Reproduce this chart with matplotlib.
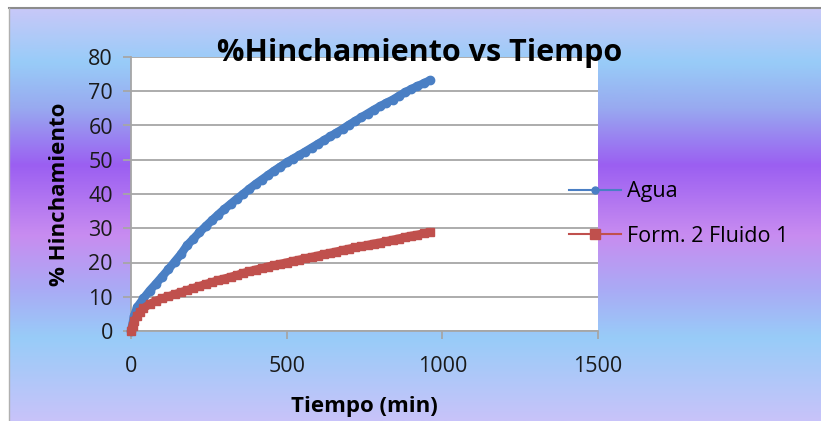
import numpy as np
import matplotlib
matplotlib.use("Agg")
import matplotlib.pyplot as plt
from matplotlib.colors import LinearSegmentedColormap

# ===== data =====
t_agua = [0, 10, 20, 40, 60, 80, 100, 120, 140, 160, 180, 200, 220, 240, 260, 280,
          300, 320, 340, 360, 380, 400, 420, 440, 460, 480, 500, 520, 540, 560, 580,
          600, 620, 640, 660, 680, 700, 720, 740, 760, 780, 800, 820, 840, 860, 880,
          900, 920, 940, 960]
y_agua = [0, 4.5, 7.0, 9.5, 11.8, 13.8, 15.9, 18.0, 20.2, 22.4, 25.0, 26.9, 28.8, 30.6,
          32.3, 34.0, 35.6, 37.1, 38.6, 40.0, 41.5, 42.9, 44.2, 45.5, 46.8, 48.0, 49.2,
          50.3, 51.3, 52.4, 53.5, 54.6, 55.7, 56.8, 57.9, 59.0, 60.2, 61.3, 62.4, 63.5,
          64.6, 65.6, 66.6, 67.5, 68.6, 69.7, 70.6, 71.5, 72.3, 73.2]

t_form = [0, 5, 10, 20, 30, 40, 60, 80, 100, 120, 140, 160, 180, 200, 220, 240, 260,
          280, 300, 320, 340, 360, 380, 400, 420, 440, 460, 480, 500, 520, 540, 560,
          580, 600, 620, 640, 660, 680, 700, 720, 740, 760, 780, 800, 820, 840, 860,
          880, 900, 920, 940, 960]
y_form = [0, 1.5, 2.8, 4.4, 5.6, 6.6, 7.9, 8.8, 9.5, 10.1, 10.7, 11.3, 11.9, 12.5, 13.1,
          13.7, 14.2, 14.8, 15.3, 15.8, 16.3, 16.9, 17.4, 17.9, 18.3, 18.8, 19.2, 19.6,
          20.0, 20.4, 20.8, 21.2, 21.6, 22.0, 22.4, 22.8, 23.2, 23.6, 24.0, 24.4, 24.7,
          25.1, 25.5, 25.8, 26.2, 26.6, 27.0, 27.4, 27.8, 28.1, 28.5, 28.9]

x_ticks = [0, 500, 1000, 1500]
y_ticks = [0, 10, 20, 30, 40, 50, 60, 70, 80]

W, H = 821, 421
plt.rcParams['font.family'] = ['Open Sans', 'DejaVu Sans']

fig = plt.figure(figsize=(W / 100, H / 100), dpi=100, facecolor="white")

# fondo degradado (estilo Excel)
stops = [(0.00, (200, 200, 248)), (0.13, (152, 204, 248)), (0.24, (152, 170, 240)),
         (0.38, (155, 95, 242)), (0.55, (200, 140, 240)), (0.68, (170, 170, 245)),
         (0.80, (152, 204, 248)), (1.00, (200, 195, 250))]
cmap = LinearSegmentedColormap.from_list(
    "bg", [(p, tuple(c / 255 for c in col)) for p, col in stops])
bx0, by1 = 9 / W, 1 - 8 / H
bg = fig.add_axes([bx0, 0, 1 - bx0, by1], zorder=-5)
bg.imshow(np.linspace(0, 1, 256)[:, None], aspect="auto", cmap=cmap,
          extent=[0, 1, 0, 1], origin="upper")
bg.set_xlim(0, 1)
bg.set_ylim(0, 1)
bg.axis("off")
fig.add_artist(plt.Line2D([bx0, 1], [by1, by1], color="#8c8c8c", lw=1.5))
fig.add_artist(plt.Line2D([bx0, bx0], [0, by1], color="#b0b0b0", lw=1.0))

ax = fig.add_axes([131 / W, 90 / H, 467 / W, 274 / H])
ax.set_facecolor("white")
ax.plot(t_agua, y_agua, color="#4a7fc4", lw=6, marker="o", ms=6,
        solid_capstyle="round", label="Agua", clip_on=False, zorder=3)
ax.plot(t_form, y_form, color="#c0504d", lw=6, marker="s", ms=6,
        solid_capstyle="round", label="Form. 2 Fluido 1", clip_on=False, zorder=4)

ax.set_xlim(0, 1500)
ax.set_ylim(0, 80)
ax.set_xticks(x_ticks)
ax.set_yticks(y_ticks)
ax.grid(axis="y", color="#a6a6a6", lw=1.3)
ax.set_axisbelow(True)
for s in ["top", "right"]:
    ax.spines[s].set_visible(False)
for s in ["left", "bottom"]:
    ax.spines[s].set_color("#a6a6a6")
    ax.spines[s].set_linewidth(1.3)
ax.tick_params(axis="both", direction="out", length=6, width=1.3, color="#a6a6a6",
               labelsize=15.5, labelcolor="#1a1a1a")
ax.tick_params(axis="x", pad=12)
ax.tick_params(axis="y", pad=7)

ax.set_xlabel("Tiempo (min)", fontsize=16, fontweight="bold", labelpad=14)
ax.set_ylabel("% Hinchamiento", fontsize=16, fontweight="bold", labelpad=13)
fig.text(420 / W, 1 - 53 / H, "%Hinchamiento vs Tiempo", fontsize=22,
         fontweight="bold", ha="center", va="center")

# leyenda
handles = [plt.Line2D([], [], color="#4a7fc4", lw=1.5, marker="o", ms=5),
           plt.Line2D([], [], color="#c0504d", lw=1.5, marker="s", ms=7)]
fig.legend(handles, ["Agua", "Form. 2 Fluido 1"], loc="center left",
           bbox_to_anchor=(569 / W, 1 - 214 / H), frameon=False, fontsize=15.5,
           handlelength=2.4, handletextpad=0.3, labelspacing=1.1, borderpad=0,
           borderaxespad=0)

fig.savefig("out.png", dpi=100)
